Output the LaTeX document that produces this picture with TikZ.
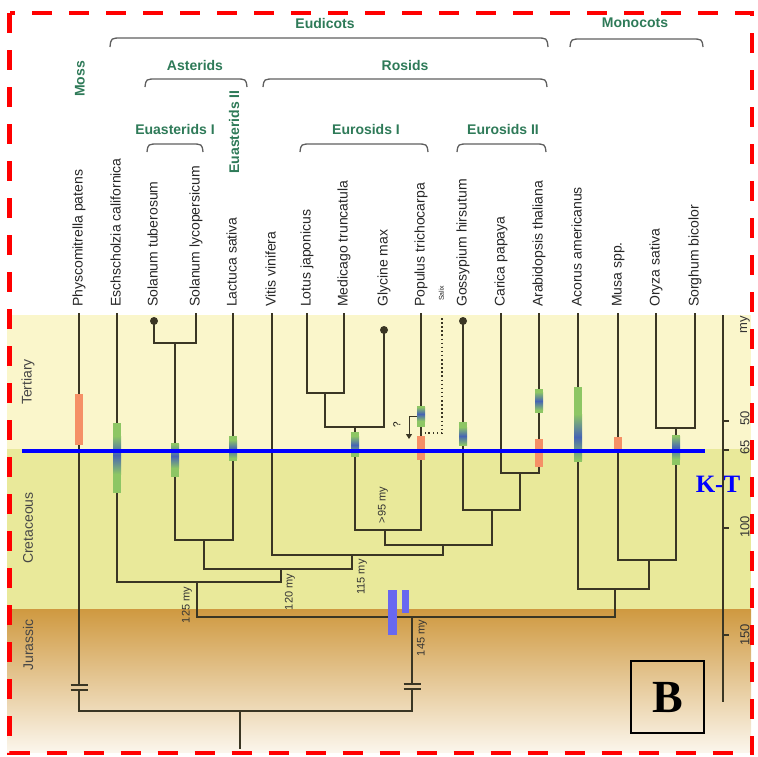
\documentclass[tikz,border=0pt]{standalone}
\usepackage{fontspec}
\setmainfont{Liberation Sans}
\newfontfamily\serifface{Liberation Serif}
\usetikzlibrary{arrows.meta}

\definecolor{tert}{RGB}{250,246,203}
\definecolor{cret}{RGB}{233,233,154}
\definecolor{jurtop}{RGB}{207,153,64}
\definecolor{jurmid}{RGB}{228,195,135}
\definecolor{jurbot}{RGB}{251,246,236}
\definecolor{branchcol}{RGB}{58,54,36}
\definecolor{cladegreen}{RGB}{46,122,88}
\definecolor{bargreen}{RGB}{141,198,100}
\definecolor{barorange}{RGB}{245,144,102}
\definecolor{barblue}{RGB}{70,100,180}
\definecolor{datebar}{RGB}{104,104,240}
\definecolor{bracegray}{RGB}{95,95,95}
\definecolor{eracol}{RGB}{70,70,70}

% green divergence bar with a blue core: x, top, bottom, core top, core bottom
\newcommand\genebar[5]{%
  \fill[bargreen] ({#1-4},#2) rectangle ({#1+4},#3);
  \shade[top color=bargreen,bottom color=bargreen,middle color=barblue]
    ({#1-4},#4) rectangle ({#1+4},#5);}
% orange bar: x, top, bottom
\newcommand\orangebar[3]{%
  \fill[barorange] ({#1-4},#2) rectangle ({#1+4},#3);}

\begin{document}
\begin{tikzpicture}[x=1pt,y=-1pt,
  edge/.style={draw=branchcol,line width=1.4pt},
  species/.style={rotate=90,anchor=west,inner sep=0pt,text height=10pt,text depth=3pt,
    font=\fontsize{14}{16}\selectfont,text=black!85},
  clade/.style={inner sep=0pt,text=cladegreen,font=\bfseries\fontsize{14}{16}\selectfont},
  bracket/.style={draw=bracegray,line width=1.3pt},
  agelabel/.style={rotate=90,inner sep=0pt,font=\fontsize{11}{12}\selectfont,text=black!80},
  eralabel/.style={rotate=90,inner sep=0pt,font=\fontsize{14}{16}\selectfont,text=eracol},
  ticklabel/.style={rotate=90,inner sep=0pt,font=\fontsize{13}{14}\selectfont,text=black!80},
  dot/.style={fill=branchcol}]
\useasboundingbox (0,0) rectangle (758,756);

% geological periods
\fill[tert] (7,315) rectangle (751,449);
\fill[cret] (7,449) rectangle (751,609);
\shade[top color=jurtop,middle color=jurmid,bottom color=jurbot] (7,609) rectangle (751,752);

% tips of the tree
\coordinate (pp) at (79,313);
\coordinate (es) at (117,313);
\coordinate (st) at (154,321);
\coordinate (sl) at (196,313);
\coordinate (la) at (233,313);
\coordinate (vv) at (272,313);
\coordinate (lj) at (307,313);
\coordinate (mt) at (344,313);
\coordinate (gm) at (384,330);
\coordinate (pt) at (421,313);
\coordinate (sx) at (442,318);
\coordinate (gh) at (463,321);
\coordinate (cp) at (501,313);
\coordinate (at) at (539,313);
\coordinate (ac) at (578,313);
\coordinate (ms) at (618,313);
\coordinate (os) at (656,313);
\coordinate (sb) at (695,313);

% internal nodes (where each node's stem starts)
\coordinate (nsol) at (175,343);
\coordinate (nast) at (204,540);
\coordinate (nlm) at (325,393);
\coordinate (nlmg) at (355,427);
\coordinate (neI) at (385,530);
\coordinate (nca) at (520,473);
\coordinate (neII) at (492,510);
\coordinate (nrest) at (443,545);
\coordinate (nros) at (352,555);
\coordinate (nar) at (281,569);
\coordinate (neud) at (197,582);
\coordinate (nos) at (676,428);
\coordinate (nmos) at (649,560);
\coordinate (nmono) at (615,589);
\coordinate (nang) at (412,617);
\coordinate (root) at (240,711);
\coordinate (rootend) at (240,749);
\coordinate (brkAt) at (79,685);
\coordinate (brkAb) at (79,690);
\coordinate (brkBt) at (412,684);
\coordinate (brkBb) at (412,689);
\coordinate (sxend) at (425,433);
\coordinate (qstart) at (421,416);
\coordinate (qend) at (409,439);

% branches
\draw[edge] (st) |- (nsol);
\draw[edge] (sl) |- (nsol);
\draw[edge] (nsol) |- (nast);
\draw[edge] (la) |- (nast);
\draw[edge] (nast) |- (nar);
\draw[edge] (lj) |- (nlm);
\draw[edge] (mt) |- (nlm);
\draw[edge] (nlm) |- (nlmg);
\draw[edge] (gm) |- (nlmg);
\draw[edge] (nlmg) |- (neI);
\draw[edge] (pt) |- (neI);
\draw[edge] (cp) |- (nca);
\draw[edge] (at) |- (nca);
\draw[edge] (gh) |- (neII);
\draw[edge] (nca) |- (neII);
\draw[edge] (neI) |- (nrest);
\draw[edge] (neII) |- (nrest);
\draw[edge] (vv) |- (nros);
\draw[edge] (nrest) |- (nros);
\draw[edge] (nros) |- (nar);
\draw[edge] (es) |- (neud);
\draw[edge] (nar) |- (neud);
\draw[edge] (os) |- (nos);
\draw[edge] (sb) |- (nos);
\draw[edge] (ms) |- (nmos);
\draw[edge] (nos) |- (nmos);
\draw[edge] (ac) |- (nmono);
\draw[edge] (nmos) |- (nmono);
\draw[edge] (neud) |- (nang);
\draw[edge] (nmono) |- (nang);
\draw[edge] (nang) -- (brkBt);
\draw[edge] (brkBb) |- (root);
\draw[edge] (pp) -- (brkAt);
\draw[edge] (brkAb) |- (root);
\draw[edge] (root) -- (rootend);

% broken-branch marks
\foreach \c in {brkAt,brkAb,brkBt,brkBb}
  \draw[edge] ([xshift=-8.5pt]\c) -- ([xshift=8.5pt]\c);

% terminal dots
\fill[dot] (st) circle (4);
\fill[dot] (gm) circle (4);
\fill[dot] (gh) circle (4);

% Salix placement and the uncertain attachment
\draw[draw=branchcol,line width=1.5pt,dash pattern=on 1.5pt off 2.6pt] (sx) |- (sxend);
\draw[draw=branchcol,line width=1pt,-{Triangle[length=5pt,width=6pt]}] (qstart) -| (qend);
\node[rotate=90,inner sep=0pt,font=\fontsize{10}{11}\selectfont] (qmark) at (397,425) {?};

% divergence bars
\orangebar{79}{394}{445}
\genebar{117}{423}{493}{436}{474}
\genebar{175}{443}{477}{444}{468}
\genebar{233}{436}{461}{440}{458}
\genebar{355}{432}{457}{436}{454}
\genebar{421}{406}{427}{407}{421}
\orangebar{421}{436}{460}
\genebar{463}{422}{445}{427}{445}
\genebar{539}{389}{413}{392}{410}
\orangebar{539}{439}{467}
\genebar{578}{387}{462}{414}{460}
\orangebar{618}{437}{453}
\genebar{676}{435}{465}{436}{459}

% dating bars
\fill[datebar] (388,590) rectangle (397,635);
\fill[datebar] (402,590) rectangle (409,613);

% K-T boundary
\coordinate (ktl) at (22,451);
\coordinate (ktr) at (705,451);
\draw[blue,line width=4pt] (ktl) -- (ktr);
\node[inner sep=0pt,text=blue,font=\serifface\bfseries\fontsize{25}{27}\selectfont] (kt) at (718,484) {K-T};

% node ages
\node[agelabel] (a125) at (187,605) {125 my};
\node[agelabel] (a120) at (290,592) {120 my};
\node[agelabel] (a115) at (362,577) {115 my};
\node[agelabel] (a95) at (383,505) {>95 my};
\node[agelabel] (a145) at (422,638) {145 my};

% time axis
\coordinate (axtop) at (723,315);
\coordinate (axbot) at (723,702);
\draw[edge] (axtop) -- (axbot);
\foreach \y/\t in {421/50,450/65,528/100,635/150}
  \draw[edge] (723,\y) -- (729,\y);
\node[ticklabel] (tmy) at (745,325) {my};
\node[ticklabel] (t50) at (745,418) {50};
\node[ticklabel] (t65) at (745,447) {65};
\node[ticklabel] (t100) at (745,527) {100};
\node[ticklabel] (t150) at (745,635) {150};

% periods
\node[eralabel] (ter) at (28,382) {Tertiary};
\node[eralabel] (cre) at (28,528) {Cretaceous};
\node[eralabel] (jur) at (28,645) {Jurassic};

% species names
\node[species] (Lpp) at (79,307) {Physcomitrella patens};
\node[species] (Les) at (117,307) {Eschscholzia californica};
\node[species] (Lst) at (154,307) {Solanum tuberosum};
\node[species] (Lsl) at (196,307) {Solanum lycopersicum};
\node[species] (Lla) at (233,307) {Lactuca sativa};
\node[species] (Lvv) at (272,307) {Vitis vinifera};
\node[species] (Llj) at (307,307) {Lotus japonicus};
\node[species] (Lmt) at (344,307) {Medicago truncatula};
\node[species] (Lgm) at (384,307) {Glycine max};
\node[species] (Lpt) at (421,307) {Populus trichocarpa};
\node[species,font=\fontsize{7}{8}\selectfont,text height=5pt,text depth=1.5pt] (Lsx) at (442,301) {Salix};
\node[species] (Lgh) at (463,307) {Gossypium hirsutum};
\node[species] (Lcp) at (501,307) {Carica papaya};
\node[species] (Lat) at (539,307) {Arabidopsis thaliana};
\node[species] (Lac) at (578,307) {Acorus americanus};
\node[species] (Lms) at (618,307) {Musa spp.};
\node[species] (Los) at (656,307) {Oryza sativa};
\node[species] (Lsb) at (695,307) {Sorghum bicolor};

% clade brackets
\foreach \xa/\xb/\yt/\ye in {110/548/38/47, 570/703/39/47, 145/247/79/87, 263/547/79/87,
    147/203/144/152, 300/428/144/152, 457/546/144/152}
  \draw[bracket] (\xa,\ye) .. controls (\xa+1,\yt) .. (\xa+12,\yt) -- (\xb-12,\yt)
    .. controls (\xb-1,\yt) .. (\xb,\ye);

% clade names
\node[clade] (Ceud) at (325,23) {Eudicots};
\node[clade] (Cmon) at (635,23) {Monocots};
\node[clade] (Cast) at (195,65) {Asterids};
\node[clade] (Cros) at (405,65) {Rosids};
\node[clade] (Ceas1) at (175,129) {Euasterids I};
\node[clade] (Ceur1) at (366,129) {Eurosids I};
\node[clade] (Ceur2) at (503,129) {Eurosids II};
\node[clade,rotate=90] (Cmoss) at (80,79) {Moss};
\node[clade,rotate=90] (Ceas2) at (234,132) {Euasterids II};

% panel letter
\node[draw=black,line width=1.8pt,minimum width=73pt,minimum height=72pt,inner sep=0pt,
  font=\serifface\bfseries\fontsize{46}{48}\selectfont] (panel) at (667.5,697) {B};

% frame
\draw[red,line width=4.5pt,dash pattern=on 20pt off 17pt] (9.5,13) rectangle (752,753);
\end{tikzpicture}
\end{document}
